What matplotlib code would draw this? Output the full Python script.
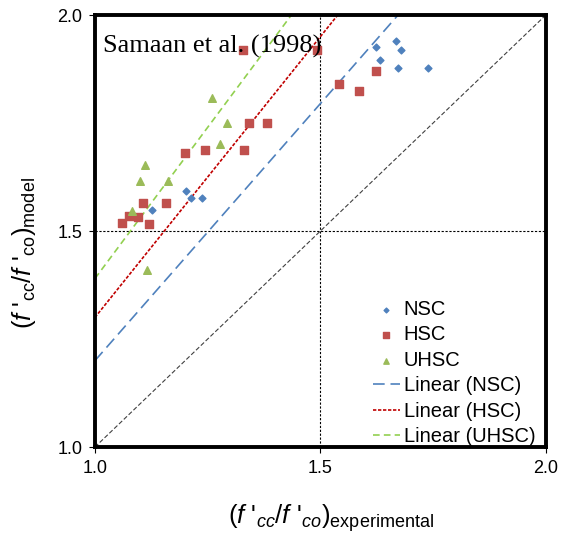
import matplotlib
matplotlib.use("Agg")
import matplotlib.pyplot as plt
import numpy as np

plt.rcParams['font.family'] = ['Liberation Sans', 'DejaVu Sans']
plt.rcParams['mathtext.fontset'] = 'custom'
plt.rcParams['mathtext.rm'] = 'Liberation Sans'
plt.rcParams['mathtext.it'] = 'Liberation Sans:italic'

# data: (f'cc/f'co) experimental vs model
nsc_x = [1.126, 1.202, 1.214, 1.238, 1.624, 1.633, 1.667, 1.672, 1.679, 1.739]
nsc_y = [1.549, 1.592, 1.577, 1.577, 1.925, 1.895, 1.941, 1.878, 1.920, 1.878]

hsc_x = [1.061, 1.076, 1.096, 1.107, 1.120, 1.158, 1.200, 1.245, 1.331, 1.329,
         1.342, 1.382, 1.492, 1.542, 1.586, 1.624]
hsc_y = [1.519, 1.536, 1.533, 1.564, 1.516, 1.564, 1.681, 1.687, 1.687, 1.919,
         1.751, 1.751, 1.919, 1.840, 1.824, 1.870]

uhsc_x = [1.082, 1.100, 1.112, 1.115, 1.162, 1.259, 1.278, 1.293]
uhsc_y = [1.546, 1.616, 1.653, 1.411, 1.616, 1.809, 1.701, 1.749]

# Excel-style linear trendlines (slope, intercept)
trend_names = ['Linear (NSC)', 'Linear (HSC)', 'Linear (UHSC)']
trend_slope = [1.19, 1.30, 1.40]
trend_icpt = [0.01, 0.00, -0.01]

fig = plt.figure(figsize=(5.65, 5.38), dpi=100)
ax = fig.add_axes([0.168, 0.169, 0.798, 0.803])

# reference lines
ax.plot([1, 2], [1, 2], color='#404040', lw=0.8, linestyle=(0, (4, 2)), zorder=1)
ax.axhline(1.5, color='black', lw=0.8, linestyle=(0, (2, 1.5)), zorder=1)
ax.axvline(1.5, color='black', lw=0.8, linestyle=(0, (2, 1.5)), zorder=1)

ax.scatter(nsc_x, nsc_y, marker='D', s=12, color='#4F81BD', label='NSC', zorder=3)
ax.scatter(hsc_x, hsc_y, marker='s', s=28, color='#C0504D', label='HSC', zorder=3)
ax.scatter(uhsc_x, uhsc_y, marker='^', s=30, color='#9BBB59', label='UHSC', zorder=3)

xs = np.array([1.0, 2.0])
styles = [('#4F81BD', (0, (7, 3.5)), 1.2),
          ('#C00000', (0, (2, 1)), 1.2),
          ('#92D050', (0, (4, 2.5)), 1.2)]
for name, m, b, (c, ls, lw) in zip(trend_names, trend_slope, trend_icpt, styles):
    ax.plot(xs, m * xs + b, color=c, linestyle=ls, lw=lw, label=name, zorder=2)

ax.set_xlim(1.0, 2.0)
ax.set_ylim(1.0, 2.0)
ax.set_xticks([1.0, 1.5, 2.0])
ax.set_yticks([1.0, 1.5, 2.0])
ax.set_xticklabels(['1.0', '1.5', '2.0'])
ax.set_yticklabels(['1.0', '1.5', '2.0'])
ax.tick_params(labelsize=13, length=4, width=0.8, pad=5)
for sp in ax.spines.values():
    sp.set_linewidth(2.8)

ax.set_xlabel(r"$(f\ '_{cc}/f\ '_{co})_{\mathrm{experimental}}$", fontsize=18.5)
ax.set_ylabel(r"$(f\ '_{\mathrm{cc}}/f\ '_{\mathrm{co}})_{\mathrm{model}}$", fontsize=18.5)
ax.xaxis.set_label_coords(0.524, -0.128)
ax.yaxis.set_label_coords(-0.126, 0.45)

ax.text(0.018, 0.913, 'Samaan et al. (1998)', transform=ax.transAxes, va='baseline',
        fontsize=19, family='Liberation Serif', zorder=4)

leg = ax.legend(loc='lower right', bbox_to_anchor=(0.99, -0.012), frameon=False,
                fontsize=14.5, handlelength=1.3, handletextpad=0.2, labelspacing=0.32,
                borderpad=0.2, borderaxespad=0.1, markerscale=0.7)

fig.savefig('out.png', dpi=100)
